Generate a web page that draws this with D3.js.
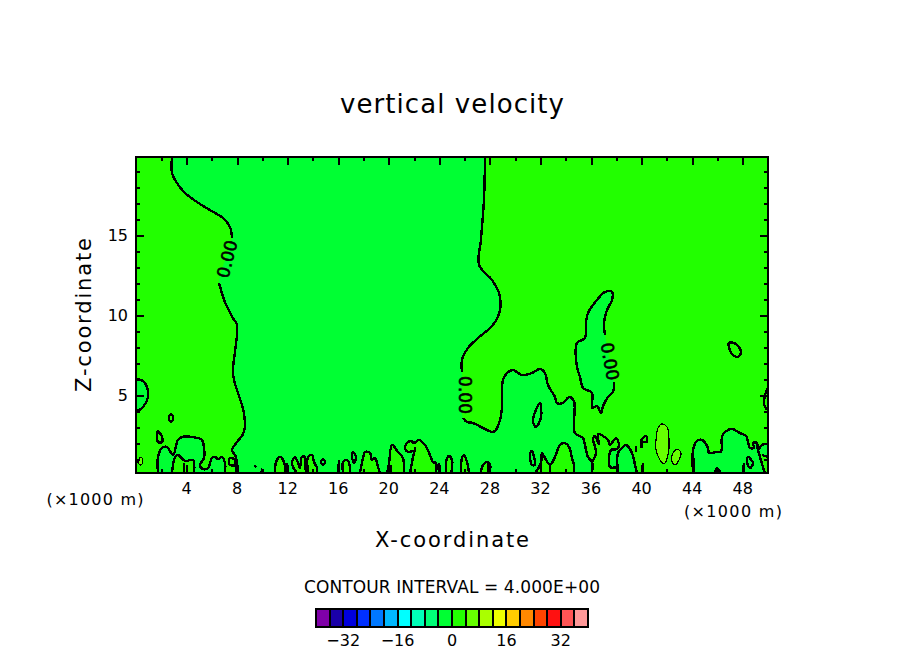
<!DOCTYPE html>
<html>
<head>
<meta charset="utf-8">
<script src="https://cdn.jsdelivr.net/npm/d3@7"></script>
<style>
  html, body { margin: 0; padding: 0; background: #fff; }
  text { font-family: "DejaVu Sans", sans-serif; fill: #000; }
  .axis path { display: none; }
  .axis line { stroke: #000; stroke-width: 2; shape-rendering: crispEdges; }
</style>
</head>
<body>
<svg id="chart" width="904" height="654"></svg>
<script>
// All contour points are [x km, z km]
var xTicks = [4, 8, 12, 16, 20, 24, 28, 32, 36, 40, 44, 48];
var xMinorTicks = [2, 6, 10, 14, 18, 22, 26, 30, 34, 38, 42, 46];
var zTicks = [5, 10, 15];
var zMinorTicks = [1, 2, 3, 4, 6, 7, 8, 9, 11, 12, 13, 14, 16, 17, 18, 19];

var legendLevels = [-40, -36, -32, -28, -24, -20, -16, -12, -8, -4, 0, 4, 8, 12, 16, 20, 24, 28, 32, 36];
var legendTicks = [-32, -16, 0, 16, 32];
var legendColors = ["#7f00a8", "#1a00a8", "#0000dd", "#0030ff", "#0078ff", "#00b8ff", "#00ffff",
  "#00ffb8", "#00ff78", "#00ff33", "#22ff00", "#66ff00", "#aaff00", "#eeff00", "#ffcc00",
  "#ff8800", "#ff4400", "#ff1111", "#ff5555", "#ff9999"];

// the zero line, split where its labels sit
var zeroLeftUpper = [[2.85,19.875],[2.85,18.875],[3.24,18.25],[3.88,17.625],[4.83,17.06],[5.85,16.56],[6.88,16.06],[7.44,15.5],[7.59,14.81]];
var zeroLeftLower = [[6.57,12],[7.04,10.81],[7.67,9.81],[7.99,9.38],[7.67,6.56],[7.75,5.94],[7.99,5.31],[8.54,3.88],[8.54,2.69],[7.99,2.06],[7.59,1.56],[7.91,1.13],[7.91,0.125]];
var zeroRightUpper = [[27.61,19.875],[27.53,17.19],[27.29,14.69],[27.14,13.125],[28.16,12.19],[28.72,11.375],[28.8,10.31],[28.24,9.375],[27.06,8.56],[26.27,7.94],[25.79,7.19],[25.79,6.44]];
var zeroRightLower = [[25.87,3.56],[26.19,3.31],[26.66,3.25],[27.45,2.94],[28.16,2.69],[28.4,2.75],[28.8,3.44],[28.96,4.25],[29.03,5.94],[29.35,6.375],[29.83,6.56],[30.54,6.25],[31.33,6.375],[31.96,6.625],[32.36,6.375],[32.59,5.625],[33.15,4.875],[33.31,4.5],[33.78,4.5],[34.26,4.875],[34.65,4.625],[34.73,2.625],[35.36,2.31],[35.52,1.875],[35.76,1.125],[36.08,0.81],[36.08,0.125]];
var ridgeIsland = [[37.1,8.75],[37.03,9.56],[37.26,10.31],[37.66,10.94],[37.66,11.44],[37.1,11.44],[36.47,10.94],[35.76,10.125],[35.6,9.5],[35.52,8.56],[34.89,8.25],[34.89,6.75],[35.13,6.125],[35.36,5.44],[36.08,5.125],[36.08,4.19],[36.47,4.31],[36.79,3.875],[36.95,4.31],[37.34,4.875],[37.74,5.19],[37.82,5.81]];

// negative areas inside the 0 to 4 band
var leftEdgeBlob = [[0,5.99],[0.55,5.875],[0.87,5.5],[0.95,4.875],[0.55,4.25],[0.08,4],[0,4]];
var leftGroundBump = [[1.74,0.125],[1.74,1.125],[2.06,1.69],[2.45,1.75],[2.93,1.25],[3.32,2.19],[3.64,2.375],[4.43,2.375],[5.22,2.19],[5.38,1.69],[5.38,1.06],[5.06,0.625],[5.3,0.375],[5.7,0.44],[6.01,1.06],[6.25,1.125],[6.49,1],[6.8,1.125],[7.04,0.75],[7.04,0.125]];
var rightBumpA = [[38.13,0.125],[38.13,1.375],[38.45,1.69],[38.77,1.875],[39.24,1.375],[39.48,0.625],[39.64,0.125]];
var rightPocket = [[37.58,1.56],[38.05,1.625],[38.13,0.5],[37.5,0.5]];
var rightGroundBump = [[44.07,0.125],[44.07,1.56],[44.38,2.125],[44.78,2.19],[45.25,1.69],[45.33,1.375],[45.96,1.44],[46.28,1.44],[46.36,2.375],[46.6,2.69],[47.15,2.875],[47.78,2.625],[48.26,2.44],[48.58,1.69],[48.89,1.69],[48.81,2],[49.13,2],[49.21,1.56],[49.53,1.875],[50,1.94],[50,0.125]];

// positive bumps along the ground inside the negative area
var innerLeftBump = [[2.85,0.125],[3.09,1.125],[3.32,1.25],[3.88,0.875],[4.51,0.94],[4.59,0.125]];
var groundBumps = [
  [[11,0.125],[11.08,0.81],[11.39,1.125],[11.71,0.81],[11.79,0.125]],
  [[12.74,0.125],[12.42,0.5],[12.34,0.81],[12.58,1.125],[12.82,0.75],[12.97,0.44],[13.13,1.125],[13.37,1.125],[13.37,0.5],[13.53,0.125]],
  [[13.61,0.125],[13.61,1.125],[13.92,1.25],[14.08,0.81],[14.32,0.44],[14.32,0.125]],
  [[16.38,0.125],[16.38,0.81],[16.69,0.94],[16.93,0.5],[16.93,0.125]],
  [[17.72,0.125],[17.96,1.06],[18.12,1.44],[18.51,1.375],[18.67,0.94],[18.91,1.06],[19.15,0.5],[19.3,0.125]],
  [[19.86,0.125],[20.02,0.75],[20.25,1.875],[20.73,1.44],[21.12,1.06],[21.2,0.125]],
  [[21.68,0.125],[21.91,1.125],[21.99,1.5],[21.52,1.44],[21.28,1.69],[21.44,2],[21.76,2.125],[21.99,2],[22.39,2.19],[22.86,1.875],[23.26,1.25],[23.5,0.81],[23.73,0.75],[23.73,0.125]],
  [[24.53,0.125],[24.6,1.06],[24.76,1.19],[25,0.94],[25,0.44],[24.92,0.125]],
  [[25.71,0.125],[25.79,1.06],[25.95,1.25],[26.19,0.81],[26.34,0.125]],
  [[27.29,0.125],[27.45,0.625],[27.77,0.81],[28,0.69],[28,0.125]],
  [[31.57,0.125],[32.04,0.75],[32.12,1.375],[32.36,1.06],[32.75,0.625],[33.15,1.125],[33.54,1.875],[33.94,2],[34.26,1.75],[34.49,1.06],[34.65,0.625],[34.65,0.125]]
];
var edgeCorner = [[49.21,1.56],[49.6,0.5],[49.76,0.125],[50,0.125],[50,1.125],[49.53,1.25]];

// closed rings with no change of colour inside
var smallRings = [
  [[2.77,3.81],[2.93,3.625],[2.85,3.375],[2.69,3.375],[2.61,3.625]],
  [[1.74,2.75],[2.06,2.375],[2.06,2.06],[1.74,2.06]],
  [[7.44,1.06],[7.83,0.94],[7.83,0.625],[7.44,0.625],[7.36,0.81]],
  [[14.79,1],[14.95,0.81],[14.79,0.625],[14.64,0.81]],
  [[17.17,1.44],[17.41,1.125],[17.25,0.75],[17.09,1.125]],
  [[31.17,1.375],[31.33,1.5],[31.49,1.125],[31.57,0.625],[31.33,0.625],[31.17,1.06]],
  [[31.96,4.5],[32.04,3.625],[31.65,3],[31.41,3.31],[31.57,3.94]],
  [[48.42,1.125],[48.81,0.75],[48.58,0.44],[48.34,0.81]],
  [[46.91,8.25],[47.47,8.19],[47.86,7.69],[47.63,7.375],[47.15,7.56]]
];

// short open bits of contour
var shortLines = [
  [[3.8,0.75],[3.8,0.125]],
  [[9.38,0.6],[9.5,0.5]],
  [[10.0,0.4],[9.9,0.15]],
  [[11.95,0.75],[11.95,0.125]],
  [[15.98,0.125],[16.06,0.94]],
  [[20.17,0.625],[20.17,0.125]],
  [[22.07,1.75],[22.07,1.44]],
  [[23.97,0.75],[23.97,0.125]],
  [[27.85,0.75],[27.85,0.125]],
  [[32.04,0.75],[32.04,0.125]],
  [[32.75,0.625],[32.75,0.125]],
  [[36.08,0.81],[36.39,1.375],[36.16,2.31],[36.31,2.44],[36.63,1.94],[36.55,2.56],[37.34,2.19],[37.5,1.875],[37.97,2.31],[38.21,1.875],[38.05,1.625],[37.58,1.56],[37.5,0.5],[38.05,0.44],[38.13,0.25]],
  [[36.63,2.19],[36.63,1.875]],
  [[39.56,1.81],[39.56,1.44]],
  [[39.95,1.69],[40.03,2.25],[40.35,2.44],[40.43,2.06],[40.11,2.06],[40.03,1.69]],
  [[40.11,0.75],[40.11,0.125]],
  [[44.15,1.06],[44.15,0.125]],
  [[45.81,0.125],[45.96,0.44],[46.28,0.125]],
  [[48.1,0.75],[48.1,0.125]],
  [[50,5.44],[49.76,5],[49.76,4.25],[50,4.06]]
];

// the 4 to 8 band shows only in these
var lightBlobBig = [[41.61,3.19],[42.01,3],[42.17,2.19],[42.09,1.25],[41.77,0.69],[41.46,0.94],[41.14,1.56],[41.14,2.19],[41.3,2.94]];
var lightBlobSmall = [[42.8,1.625],[43.12,1.375],[42.96,0.94],[42.64,0.625],[42.41,0.81],[42.41,1.25]];
var lightBlobLeft = [[0.4,1.125],[0.55,0.875],[0.4,0.625],[0.16,0.75],[0.24,1]];

var svg = d3.select("#chart");

var x = d3.scaleLinear().domain([0, 50]).range([136, 768]);
var z = d3.scaleLinear().domain([0.125, 19.875]).range([473, 157]);
var legendX = d3.scaleLinear().domain([-40, 40]).range([316, 588]);

var line = d3.line()
  .x(function(d) { return x(d[0]); })
  .y(function(d) { return z(d[1]); })
  .curve(d3.curveCatmullRom.alpha(0.5));
var ring = d3.line()
  .x(function(d) { return x(d[0]); })
  .y(function(d) { return z(d[1]); })
  .curve(d3.curveCatmullRomClosed.alpha(0.5));

var negativeColor = legendColors[9];
var positiveColor = legendColors[10];
var lightColor = legendColors[11];

svg.append("clipPath").attr("id", "plot-clip")
  .append("rect")
    .attr("x", x(0)).attr("y", z(19.875))
    .attr("width", x(50) - x(0)).attr("height", z(0.125) - z(19.875));

var plot = svg.append("g").attr("clip-path", "url(#plot-clip)");

plot.append("rect")
  .attr("x", x(0)).attr("y", z(19.875))
  .attr("width", x(50) - x(0)).attr("height", z(0.125) - z(19.875))
  .attr("fill", positiveColor);

function fillAreas(areas, color, gen) {
  plot.selectAll(null).data(areas).enter().append("path")
    .attr("d", function(d) { return (gen || line)(d) + "Z"; })
    .attr("fill", color);
}

function strokeLines(lines, gen, width) {
  plot.selectAll(null).data(lines).enter().append("path")
    .attr("d", function(d) { return gen(d); })
    .attr("fill", "none")
    .attr("stroke", "#000")
    .attr("stroke-width", width)
    .attr("stroke-linejoin", "round")
    .attr("shape-rendering", "crispEdges");
}

var mainArea = zeroLeftUpper.concat(zeroLeftLower, zeroRightLower.slice().reverse(), zeroRightUpper.slice().reverse());

fillAreas([mainArea, ridgeIsland, leftEdgeBlob, leftGroundBump, rightBumpA, rightPocket, rightGroundBump], negativeColor);
fillAreas(groundBumps.concat([innerLeftBump, edgeCorner]), positiveColor);
fillAreas([lightBlobBig, lightBlobSmall, lightBlobLeft], lightColor, ring);

strokeLines([zeroLeftUpper, zeroLeftLower, zeroRightUpper, zeroRightLower, ridgeIsland, leftEdgeBlob,
  leftGroundBump, rightBumpA, innerLeftBump, rightGroundBump.slice(0, 20)].concat(groundBumps, shortLines), line, 2.4);
strokeLines(smallRings, ring, 2.4);
strokeLines([lightBlobBig, lightBlobSmall, lightBlobLeft], ring, 1.2);
strokeLines([[[49.21,1.56],[49.6,0.5],[49.76,0.125]], [[49.53,1.25],[50,1.125]]], line, 2.4);

// contour labels
var contourLabels = [
  {text: "0.00", x: 7.2, z: 13.5, angle: -76},
  {text: "0.00", x: 26.0, z: 5.0, angle: 90},
  {text: "0.00", x: 37.5, z: 7.1, angle: 80}
];
svg.selectAll(null).data(contourLabels).enter().append("text")
  .attr("transform", function(d) { return "translate(" + x(d.x) + "," + z(d.z) + ") rotate(" + d.angle + ")"; })
  .attr("text-anchor", "middle")
  .attr("dy", "0.36em")
  .attr("font-size", 17)
  .attr("stroke", "#000")
  .attr("stroke-width", 0.6)
  .attr("textLength", 38)
  .text(function(d) { return d.text; });

// axes, ticks point inward on all four sides
function addTicks(axis, transform, size, values) {
  svg.append("g").attr("class", "axis").attr("transform", transform)
    .call(axis.tickValues(values).tickSize(-size).tickFormat(""));
}

[[xTicks, 8], [xMinorTicks, 4]].forEach(function(t) {
  addTicks(d3.axisBottom(x), "translate(0," + z(0.125) + ")", t[1], t[0]);
  addTicks(d3.axisTop(x), "translate(0," + z(19.875) + ")", t[1], t[0]);
});
[[zTicks, 8], [zMinorTicks, 4]].forEach(function(t) {
  addTicks(d3.axisLeft(z), "translate(" + x(0) + ",0)", t[1], t[0]);
  addTicks(d3.axisRight(z), "translate(" + x(50) + ",0)", t[1], t[0]);
});

svg.append("rect")
  .attr("x", x(0)).attr("y", z(19.875))
  .attr("width", x(50) - x(0)).attr("height", z(0.125) - z(19.875))
  .attr("fill", "none").attr("stroke", "#000").attr("stroke-width", 2.5)
  .attr("shape-rendering", "crispEdges");

function label(str, px, py, size, width, anchor) {
  var t = svg.append("text")
    .attr("x", px).attr("y", py)
    .attr("font-size", size)
    .attr("text-anchor", anchor || "middle")
    .text(str);
  if (width) t.attr("textLength", width).attr("lengthAdjust", "spacing");
  return t;
}

svg.selectAll(null).data(xTicks).enter().append("text")
  .attr("x", function(d) { return x(d); })
  .attr("y", 494)
  .attr("text-anchor", "middle")
  .attr("font-size", 16)
  .text(function(d) { return d; });

svg.selectAll(null).data(zTicks).enter().append("text")
  .attr("x", 128)
  .attr("y", function(d) { return z(d) + 6; })
  .attr("text-anchor", "end")
  .attr("font-size", 16)
  .text(function(d) { return d; });

label("vertical velocity", 452, 113, 26, 224);
label("X-coordinate", 452, 547, 21, 154);
label("Z-coordinate", 0, 0, 21, 154).attr("transform", "translate(91,315) rotate(-90)");
label("(×1000 m)", 95, 505, 16, 97);
label("(×1000 m)", 733, 517, 16, 98);
label("CONTOUR INTERVAL = 4.000E+00", 452, 593, 17, 296);

// colour key
svg.selectAll(null).data(legendLevels).enter().append("rect")
  .attr("x", function(d) { return legendX(d); })
  .attr("y", 609)
  .attr("width", legendX(4) - legendX(0))
  .attr("height", 18)
  .attr("fill", function(d, i) { return legendColors[i]; })
  .attr("stroke", "#000")
  .attr("stroke-width", 2)
  .attr("shape-rendering", "crispEdges");

svg.selectAll(null).data(legendTicks).enter().append("text")
  .attr("x", function(d) { return legendX(d); })
  .attr("y", 646)
  .attr("text-anchor", "middle")
  .attr("font-size", 16)
  .text(function(d) { return d3.format("d")(d); });
</script>
</body>
</html>
